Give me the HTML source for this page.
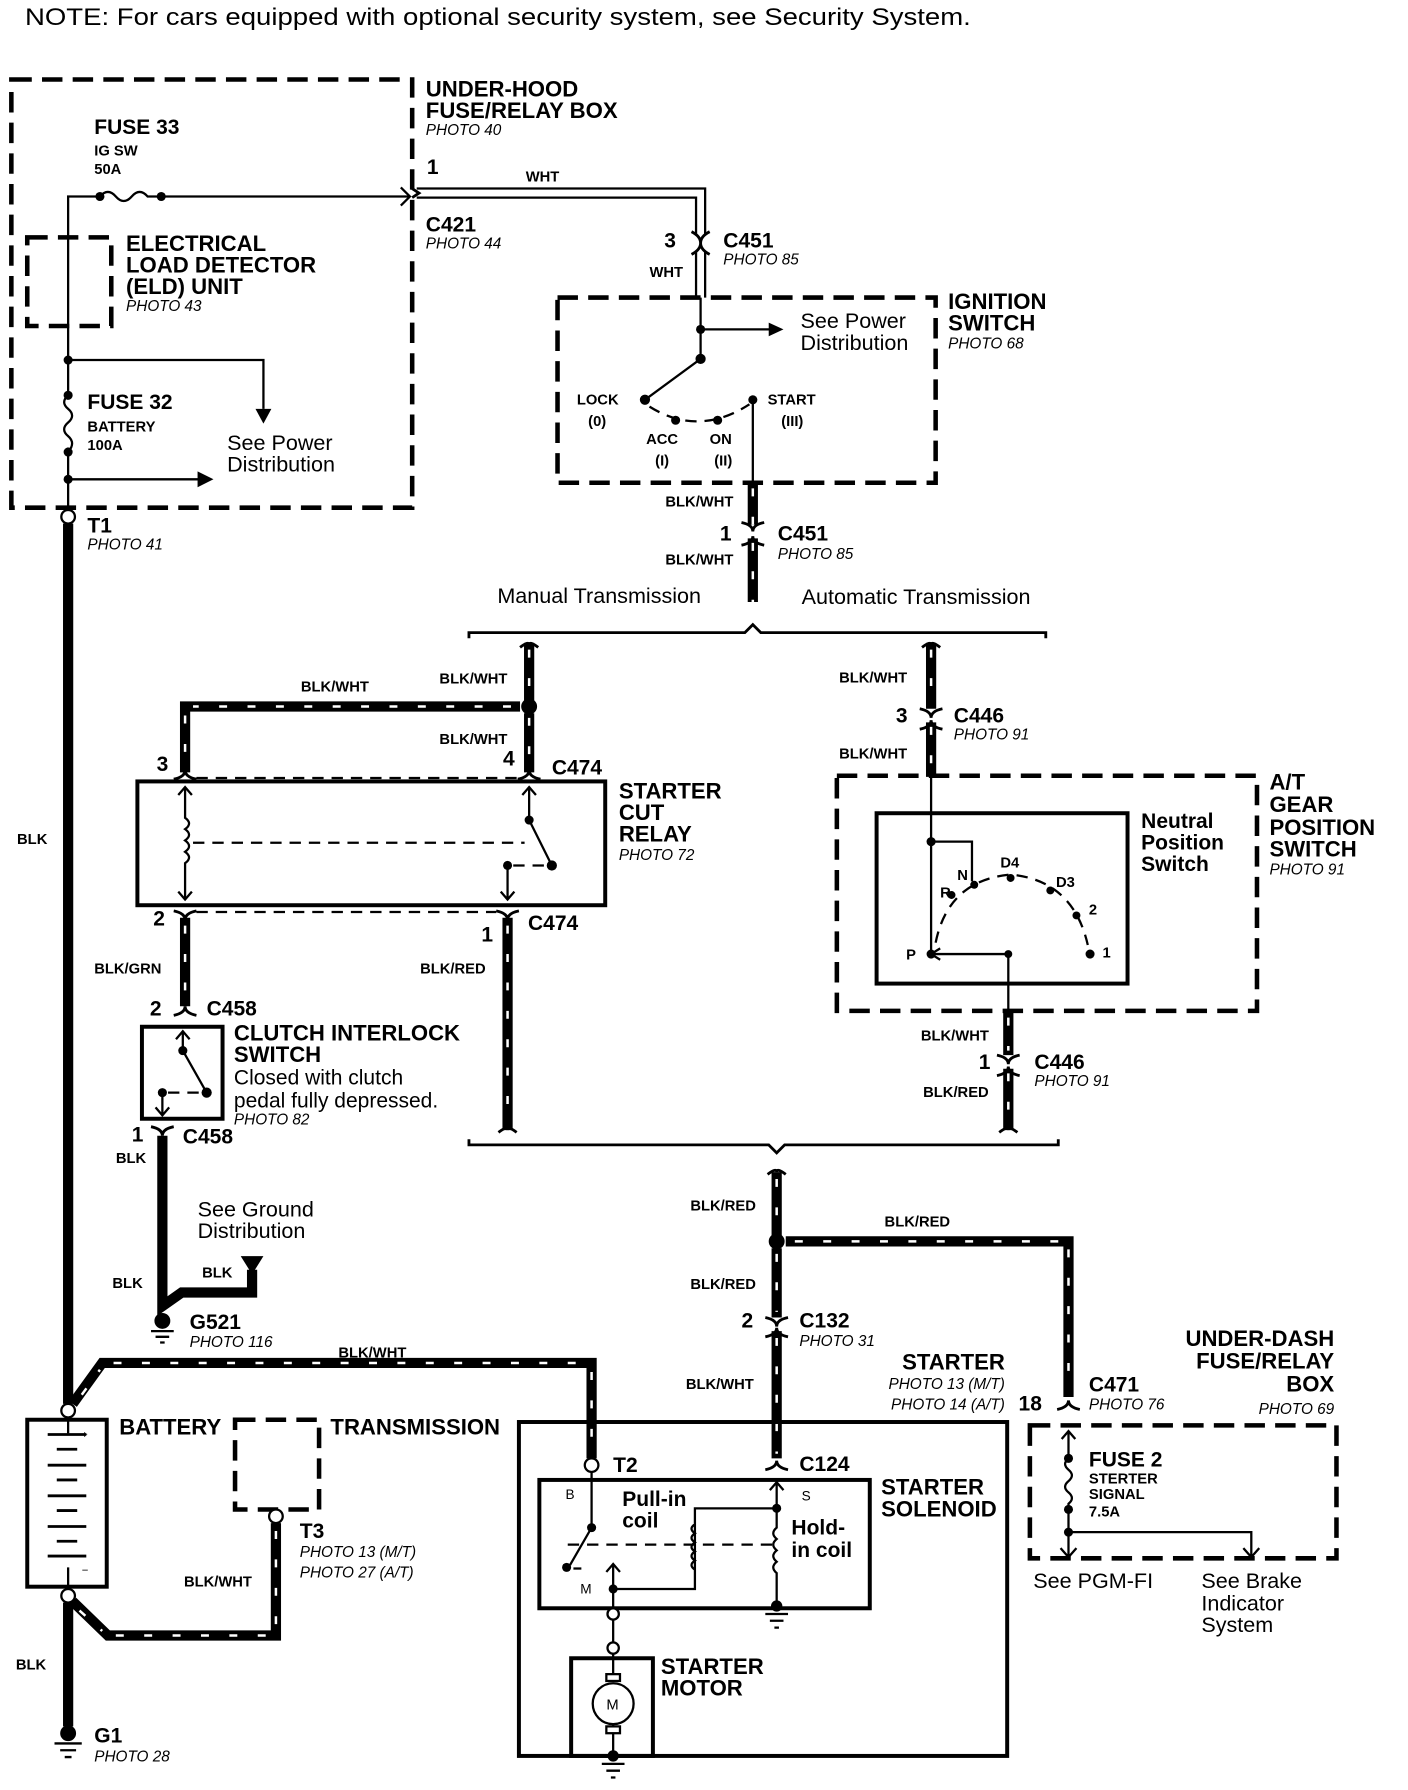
<!DOCTYPE html>
<html><head><meta charset="utf-8"><style>
html,body{margin:0;padding:0;background:#fff}
svg{display:block}
text{font-family:"Liberation Sans",Arial,sans-serif;fill:#000}
.b{font-weight:bold}
text[font-size="17"]{font-size:18.5px}
text[font-size="17.5"]{font-size:18.5px}
.h{font-weight:bold;font-size:19.5px}
.s{font-weight:bold;font-size:13px}
.p{font-style:italic;font-size:13.5px}
.n{font-size:19px}
.w{fill:none;stroke:#000;stroke-width:9}
.st{fill:none;stroke:#fff;stroke-width:2.2;stroke-dasharray:7 18}
.t{fill:none;stroke:#000;stroke-width:2}
.d{fill:none;stroke:#000;stroke-width:4;stroke-dasharray:18 9}
.dt{fill:none;stroke:#000;stroke-width:2;stroke-dasharray:10 7}
.bx{fill:none;stroke:#000;stroke-width:3.5}
.c{fill:none;stroke:#000;stroke-width:2.5}
</style></head><body>
<svg width="1408" height="1790" viewBox="0 0 1240 1576" preserveAspectRatio="none" xmlns="http://www.w3.org/2000/svg">
<text x="22" y="22" font-size="21" textLength="833" lengthAdjust="spacingAndGlyphs">NOTE: For cars equipped with optional security system, see Security System.</text>

<!-- Under-hood box -->
<rect class="d" x="10" y="70" width="353" height="377"/>
<text class="h" x="375" y="85">UNDER-HOOD</text>
<text class="h" x="375" y="104">FUSE/RELAY BOX</text>
<text class="p" x="375" y="119">PHOTO  40</text>
<text class="b" font-size="17" x="83" y="118">FUSE 33</text>
<text class="s" x="83" y="137">IG SW</text>
<text class="s" x="83" y="153">50A</text>
<path class="t" d="M60 447 V173 H88"/>
<path class="t" d="M88 173 q7 -8 14 0 q7 8 14 0 q7 -8 14 0 H360"/>
<path class="t" d="M353 165 L361 173 L353 181"/>
<circle cx="88" cy="173" r="4"/><circle cx="142" cy="173" r="4"/>
<rect class="d" x="24" y="209" width="74" height="78"/>
<text class="h" x="111" y="221">ELECTRICAL</text>
<text class="h" x="111" y="240">LOAD DETECTOR</text>
<text class="h" x="111" y="259">(ELD) UNIT</text>
<text class="p" x="111" y="274">PHOTO 43</text>
<circle cx="60" cy="317" r="4"/>
<path class="t" d="M60 317 H232 V360"/>
<path d="M225 360 L239 360 L232 373 Z"/>
<circle cx="60" cy="348" r="4"/><circle cx="60" cy="398" r="4"/><circle cx="60" cy="422" r="4"/>
<path fill="#fff" stroke="#fff" stroke-width="3" d="M60 352 V394"/>
<path class="t" d="M60 348 q-7 6 0 12 q7 6 0 12 q-7 6 0 12 q7 6 0 14"/>
<path class="t" d="M60 422 H175"/>
<path d="M174 415 L188 422 L174 429 Z"/>
<text class="b" font-size="17" x="77" y="360">FUSE 32</text>
<text class="s" x="77" y="380">BATTERY</text>
<text class="s" x="77" y="396">100A</text>
<text class="n" x="200" y="396">See Power</text>
<text class="n" x="200" y="415">Distribution</text>
<circle cx="60" cy="455" r="6" fill="#fff" stroke="#000" stroke-width="2"/>
<path class="w" d="M60 461 V1236"/>
<text class="b" font-size="17" x="77" y="469">T1</text>
<text class="p" x="77" y="484">PHOTO 41</text>
<text class="s" x="15" y="743">BLK</text>

<!-- WHT double wire -->
<path class="t" d="M367 166 H621 V206"/>
<path class="t" d="M367 174 H613 V206"/>
<path class="c" d="M363 166 q6 4 6 4 q-6 4 -6 4"/>
<text class="b" font-size="17" x="376" y="153">1</text>
<text class="s" x="463" y="160">WHT</text>
<text class="b" font-size="17" x="375" y="204">C421</text>
<text class="p" x="375" y="219">PHOTO 44</text>
<path class="c" d="M609 204 q8 4 8 10 q0 -6 8 -10 M609 224 q8 -4 8 -10 q0 6 8 10"/>
<text class="b" font-size="17" x="585" y="218">3</text>
<text class="b" font-size="17" x="637" y="218">C451</text>
<text class="p" x="637" y="233">PHOTO 85</text>
<text class="s" x="572" y="244">WHT</text>
<path class="t" d="M613 222 V262 M621 222 V262"/>
<!-- Ignition switch -->
<rect class="d" x="491" y="262" width="333" height="163"/>
<path class="t" d="M617 262 V316 L568 352"/>
<circle cx="617" cy="290" r="4"/><circle cx="617" cy="316" r="4.5"/>
<path class="t" d="M617 290 H678"/><path d="M677 284 L690 290 L677 296 Z"/>
<circle cx="568" cy="352" r="4.5"/><circle cx="595" cy="370" r="4"/><circle cx="632" cy="370" r="4"/><circle cx="663" cy="352" r="4"/>
<path class="dt" stroke-dasharray="6 8" d="M572 358 Q615 385 660 356"/>
<path class="t" d="M663 352 V425"/>
<text class="s" x="508" y="356">LOCK</text><text class="s" x="518" y="375">(0)</text>
<text class="s" x="569" y="391">ACC</text><text class="s" x="577" y="410">(I)</text>
<text class="s" x="625" y="391">ON</text><text class="s" x="629" y="410">(II)</text>
<text class="s" x="676" y="356">START</text><text class="s" x="688" y="375">(III)</text>
<text class="h" x="835" y="272">IGNITION</text>
<text class="h" x="835" y="291">SWITCH</text>
<text class="p" x="835" y="307">PHOTO 68</text>
<text class="n" x="705" y="289">See Power</text>
<text class="n" x="705" y="308">Distribution</text>
<path class="w" d="M663 425 V462 M663 474 V530"/>
<path class="st" d="M663 430 V462 M663 478 V530"/>
<path class="c" d="M653 460 q10 2 10 8 q0 -6 10 -8 M653 480 q10 -2 10 -8 q0 6 10 8"/>
<text class="s" x="586" y="446">BLK/WHT</text>
<text class="b" font-size="17" x="634" y="476">1</text>
<text class="b" font-size="17" x="685" y="476">C451</text>
<text class="p" x="685" y="492">PHOTO 85</text>
<text class="s" x="586" y="497">BLK/WHT</text>
<text class="n" x="438" y="531">Manual Transmission</text>
<text class="n" x="706" y="532">Automatic Transmission</text>
<path class="c" stroke-width="3" d="M413 562 V557 H656 L663 550 L670 557 H921 V562"/>

<!-- Manual branch -->
<path class="w" d="M466 566 V618 M466 628 V680"/>
<path class="st" d="M466 572 V618 M466 632 V676"/>
<circle cx="466" cy="622" r="7"/>
<path class="w" d="M458 622 H163 V680"/>
<path class="st" d="M450 622 H170 M163 630 V676"/>
<path class="c" d="M458 570 q8 -6 8 -2 q0 -4 8 2"/>
<text class="s" x="265" y="609">BLK/WHT</text>
<text class="s" x="387" y="602">BLK/WHT</text>
<text class="s" x="387" y="655">BLK/WHT</text>
<text class="b" font-size="17" x="138" y="679">3</text>
<text class="b" font-size="17" x="443" y="674">4</text>
<text class="b" font-size="17" x="486" y="682">C474</text>
<path class="c" d="M153 686 q10 -2 10 -8 q0 6 10 8 M456 686 q10 -2 10 -8 q0 6 10 8"/>
<path class="dt" d="M173 685 H456"/>
<rect class="bx" x="121" y="688" width="412" height="109"/>
<path class="t" d="M163 693 V720 q7 5 0 10 q7 5 0 10 q7 5 0 10 q7 5 0 10 V792"/>
<path class="t" d="M157 700 L163 693 L169 700 M157 785 L163 792 L169 785"/>
<path class="dt" d="M170 742 H462"/>
<path class="t" d="M466 693 V722 L486 762"/>
<path class="t" d="M460 700 L466 693 L472 700"/>
<circle cx="466" cy="722" r="4"/><circle cx="486" cy="762" r="4.5"/><circle cx="447" cy="762" r="4"/>
<path class="dt" stroke-dasharray="6 6" d="M452 762 H480"/>
<path class="t" d="M447 762 V792 M441 785 L447 792 L453 785"/>
<text class="h" x="545" y="703">STARTER</text>
<text class="h" x="545" y="722">CUT</text>
<text class="h" x="545" y="741">RELAY</text>
<text class="p" x="545" y="757">PHOTO 72</text>
<path class="c" d="M153 802 q10 2 10 8 q0 -6 10 -8 M437 802 q10 2 10 8 q0 -6 10 -8"/>
<path class="dt" d="M173 803 H437"/>
<text class="b" font-size="17" x="135" y="815">2</text>
<text class="b" font-size="17" x="465" y="819">C474</text>
<text class="b" font-size="17" x="424" y="829">1</text>
<path class="w" d="M163 808 V886"/>
<path class="st" d="M163 815 V882"/>
<text class="s" x="83" y="857">BLK/GRN</text>
<path class="c" d="M153 894 q10 -2 10 -8 q0 6 10 8"/>
<text class="b" font-size="17" x="132" y="894">2</text>
<text class="b" font-size="17" x="182" y="894">C458</text>
<rect class="bx" x="125" y="904" width="71" height="81"/>
<path class="t" d="M161 908 V925 L182 962 M155 915 L161 908 L167 915"/>
<circle cx="161" cy="925" r="4"/><circle cx="182" cy="962" r="4.5"/><circle cx="143" cy="962" r="4"/>
<path class="dt" stroke-dasharray="5 5" d="M148 962 H176"/>
<path class="t" d="M143 962 V982 M137 975 L143 982 L149 975"/>
<text class="h" x="206" y="916">CLUTCH INTERLOCK</text>
<text class="h" x="206" y="935">SWITCH</text>
<text class="n" x="206" y="955" font-size="17.5">Closed with clutch</text>
<text class="n" x="206" y="975" font-size="17.5">pedal fully depressed.</text>
<text class="p" x="206" y="990">PHOTO 82</text>
<path class="c" d="M133 992 q10 2 10 8 q0 -6 10 -8"/>
<text class="b" font-size="17" x="116" y="1005">1</text>
<text class="b" font-size="17" x="161" y="1007">C458</text>
<text class="s" x="102" y="1024">BLK</text>
<path class="w" d="M143 1000 V1150 L160 1138 H222 V1118"/>
<path d="M212 1106 H232 L222 1122 Z"/>
<text class="n" x="174" y="1071">See Ground</text>
<text class="n" x="174" y="1090">Distribution</text>
<text class="s" x="178" y="1125">BLK</text>
<text class="s" x="99" y="1134">BLK</text>
<circle cx="143" cy="1163" r="7"/>
<path class="t" d="M133 1172 H153 M137 1177 H149 M141 1182 H145"/>
<text class="b" font-size="17" x="167" y="1170">G521</text>
<text class="p" x="167" y="1186">PHOTO 116</text>
<path class="w" d="M447 808 V995"/>
<path class="st" d="M447 815 V990"/>
<path class="c" d="M439 997 q8 -6 8 -2 q0 -4 8 2"/>
<text class="s" x="370" y="857">BLK/RED</text>

<!-- Auto branch -->
<path class="w" d="M820 566 V624 M820 636 V684"/>
<path class="st" d="M820 572 V620 M820 640 V680"/>
<path class="c" d="M812 570 q8 -6 8 -2 q0 -4 8 2"/>
<path class="c" d="M810 624 q10 2 10 8 q0 -6 10 -8 M810 642 q10 -2 10 -8 q0 6 10 8"/>
<text class="s" x="739" y="601">BLK/WHT</text>
<text class="b" font-size="17" x="789" y="636">3</text>
<text class="b" font-size="17" x="840" y="636">C446</text>
<text class="p" x="840" y="651">PHOTO  91</text>
<text class="s" x="739" y="668">BLK/WHT</text>
<rect class="d" x="737" y="683" width="370" height="207"/>
<rect class="bx" x="772" y="716" width="221" height="150"/>
<path class="t" d="M820 684 V840 M820 741 H856 V776"/>
<circle cx="820" cy="741" r="4"/>
<circle cx="838" cy="788" r="3.5"/><circle cx="858" cy="779" r="3.5"/><circle cx="890" cy="773" r="3.5"/>
<circle cx="925" cy="784" r="3.5"/><circle cx="948" cy="806" r="3.5"/><circle cx="960" cy="840" r="4"/>
<circle cx="820" cy="840" r="4"/>
<path class="dt" stroke-dasharray="5 7" d="M824 830 Q835 775 890 770 Q945 775 958 832"/>
<path class="t" d="M820 840 H888 V890 M828 835 L820 840 L828 845"/>
<circle cx="888" cy="840" r="3.5"/>
<text class="s" x="828" y="790">R</text>
<text class="s" x="843" y="775">N</text>
<text class="s" x="881" y="764">D4</text>
<text class="s" x="930" y="781">D3</text>
<text class="s" x="959" y="805">2</text>
<text class="s" x="971" y="843">1</text>
<text class="s" x="798" y="845">P</text>
<text class="b" font-size="17" x="1005" y="729">Neutral</text>
<text class="b" font-size="17" x="1005" y="748">Position</text>
<text class="b" font-size="17" x="1005" y="767">Switch</text>
<text class="h" x="1118" y="695">A/T</text>
<text class="h" x="1118" y="715">GEAR</text>
<text class="h" x="1118" y="735">POSITION</text>
<text class="h" x="1118" y="754">SWITCH</text>
<text class="p" x="1118" y="770">PHOTO 91</text>
<path class="w" d="M888 890 V929 M888 941 V995"/>
<path class="st" d="M888 896 V925 M888 945 V990"/>
<path class="c" d="M878 929 q10 2 10 8 q0 -6 10 -8 M878 947 q10 -2 10 -8 q0 6 10 8 M880 997 q8 -6 8 -2 q0 -4 8 2"/>
<text class="s" x="811" y="916">BLK/WHT</text>
<text class="b" font-size="17" x="862" y="941">1</text>
<text class="b" font-size="17" x="911" y="941">C446</text>
<text class="p" x="911" y="956">PHOTO 91</text>
<text class="s" x="813" y="966">BLK/RED</text>
<path class="c" stroke-width="3" d="M413 1003 V1008 H677 L684 1015 L691 1008 H932 V1003"/>

<!-- Lower common -->
<path class="w" d="M684 1032 V1088 M684 1099 V1160 M684 1172 V1284"/>
<path class="st" d="M684 1038 V1084 M684 1104 V1155 M684 1178 V1280"/>
<path class="c" d="M676 1034 q8 -6 8 -2 q0 -4 8 2"/>
<circle cx="684" cy="1093" r="7"/>
<path class="w" d="M692 1093 H941 V1230"/>
<path class="st" d="M700 1093 H935 M941 1100 V1225"/>
<path class="c" d="M674 1160 q10 2 10 8 q0 -6 10 -8 M674 1177 q10 -2 10 -8 q0 6 10 8"/>
<path class="c" d="M674 1294 q10 -2 10 -8 q0 6 10 8"/>
<path class="c" d="M931 1241 q10 -2 10 -8 q0 6 10 8"/>
<text class="s" x="608" y="1066">BLK/RED</text>
<text class="s" x="779" y="1080">BLK/RED</text>
<text class="s" x="608" y="1135">BLK/RED</text>
<text class="b" font-size="17" x="653" y="1169">2</text>
<text class="b" font-size="17" x="704" y="1169">C132</text>
<text class="p" x="704" y="1185">PHOTO 31</text>
<text class="s" x="604" y="1223">BLK/WHT</text>
<text class="h" x="885" y="1206" text-anchor="end">STARTER</text>
<text class="p" x="885" y="1223" text-anchor="end">PHOTO 13 (M/T)</text>
<text class="p" x="885" y="1241" text-anchor="end">PHOTO 14 (A/T)</text>

<!-- Battery -->
<circle cx="60" cy="1242" r="6" fill="#fff" stroke="#000" stroke-width="2"/>
<path class="w" d="M64 1236 L90 1200 H521 V1284"/>
<path class="st" d="M72 1228 L88 1206 M100 1200 H515 M521 1208 V1280"/>
<text class="s" x="298" y="1195">BLK/WHT</text>
<rect class="bx" x="24" y="1250" width="70" height="147" stroke-width="4"/>
<path class="t" d="M60 1250 V1262 M60 1380 V1397"/>
<path stroke="#000" stroke-width="2.5" d="M42 1263 H76 M50 1276 H68 M42 1290 H76 M50 1303 H68 M42 1317 H76 M50 1330 H68 M42 1344 H76 M50 1357 H68 M42 1370 H76"/>
<text x="72" y="1266" font-size="9">+</text><text x="72" y="1386" font-size="10">−</text>
<text class="h" x="105" y="1263">BATTERY</text>
<circle cx="60" cy="1405" r="6" fill="#fff" stroke="#000" stroke-width="2"/>
<path class="w" d="M64 1410 L95 1440 H243 V1341"/>
<path class="st" d="M70 1418 L90 1436 M102 1440 H238 M243 1430 V1345"/>
<path class="w" d="M60 1411 V1520"/>
<text class="s" x="14" y="1470">BLK</text>
<circle cx="60" cy="1526" r="7"/>
<path class="t" d="M48 1535 H72 M53 1541 H67 M57 1547 H63"/>
<text class="b" font-size="17" x="83" y="1534">G1</text>
<text class="p" x="83" y="1551">PHOTO 28</text>
<rect class="d" x="207" y="1250" width="74" height="79"/>
<text class="h" x="291" y="1263">TRANSMISSION</text>
<circle cx="243" cy="1335" r="6" fill="#fff" stroke="#000" stroke-width="2"/>
<text class="b" font-size="17" x="264" y="1354">T3</text>
<text class="p" x="264" y="1371">PHOTO 13 (M/T)</text>
<text class="p" x="264" y="1389">PHOTO 27 (A/T)</text>
<text class="s" x="162" y="1397">BLK/WHT</text>

<!-- Starter -->
<rect class="bx" x="457" y="1252" width="430" height="294"/>
<circle cx="521" cy="1290" r="6" fill="#fff" stroke="#000" stroke-width="2"/>
<text class="b" font-size="17" x="540" y="1296">T2</text>
<text class="b" font-size="17" x="704" y="1295">C124</text>
<rect class="bx" x="475" y="1303" width="291" height="113"/>
<text x="498" y="1320" font-size="12">B</text>
<text x="706" y="1321" font-size="12">S</text>
<text x="511" y="1403" font-size="12">M</text>
<text class="b" font-size="17" x="548" y="1326">Pull-in</text>
<text class="b" font-size="17" x="548" y="1345">coil</text>
<text class="b" font-size="17" x="697" y="1351">Hold-</text>
<text class="b" font-size="17" x="697" y="1371">in coil</text>
<text class="h" x="776" y="1316">STARTER</text>
<text class="h" x="776" y="1335">SOLENOID</text>
<path class="t" d="M521 1296 V1345 L502 1378"/>
<circle cx="521" cy="1345" r="4"/><circle cx="499" cy="1380" r="4"/>
<path class="t" d="M505 1381 H512"/>
<path class="t" d="M540 1378 V1416 M534 1384 L540 1377 L546 1384"/>
<circle cx="540" cy="1399" r="4"/>
<path class="t" d="M540 1399 H612 V1342 q-6 4 0 8 q-6 4 0 8 q-6 4 0 8 q-6 4 0 8 q-6 4 0 8 V1328 M612 1342 V1328 H684"/>
<circle cx="684" cy="1328" r="4"/>
<path class="t" d="M684 1305 V1345 q-6 5 0 10 q-6 5 0 10 q-6 5 0 10 q-6 5 0 10 V1416 M678 1312 L684 1305 L690 1312"/>
<path class="dt" d="M500 1360 H684"/>
<circle cx="684" cy="1414" r="5"/>
<path class="t" d="M674 1421 H694 M678 1427 H690 M682 1433 H686"/>
<circle cx="540" cy="1421" r="5" fill="#fff" stroke="#000" stroke-width="2"/>
<path class="t" d="M540 1426 V1446"/>
<circle cx="540" cy="1451" r="5" fill="#fff" stroke="#000" stroke-width="2"/>
<rect class="bx" x="503" y="1460" width="72" height="86"/>
<path class="t" d="M540 1456 V1474 M540 1518 V1546"/>
<rect x="534" y="1474" width="12" height="6" fill="#fff" stroke="#000" stroke-width="2"/>
<rect x="534" y="1520" width="12" height="6" fill="#fff" stroke="#000" stroke-width="2"/>
<circle cx="540" cy="1500" r="18" fill="#fff" stroke="#000" stroke-width="2"/>
<text x="534" y="1505" font-size="13">M</text>
<text class="h" x="582" y="1474">STARTER</text>
<text class="h" x="582" y="1493">MOTOR</text>
<circle cx="540" cy="1546" r="5"/>
<path class="t" d="M530 1553 H550 M534 1559 H546 M538 1565 H542"/>

<!-- Under-dash -->
<text class="b" font-size="17" x="897" y="1242">18</text>
<text class="b" font-size="17" x="959" y="1225">C471</text>
<text class="p" x="959" y="1241">PHOTO 76</text>
<text class="h" x="1175" y="1185" text-anchor="end">UNDER-DASH</text>
<text class="h" x="1175" y="1205" text-anchor="end">FUSE/RELAY</text>
<text class="h" x="1175" y="1225" text-anchor="end">BOX</text>
<text class="p" x="1175" y="1245" text-anchor="end">PHOTO 69</text>
<rect class="d" x="907" y="1255" width="270" height="117"/>
<path class="t" d="M941 1260 V1284 q-6 5 0 10 q6 5 0 10 q-6 5 0 10 q6 5 0 10 V1371 M935 1267 L941 1260 L947 1267 M934 1363 L941 1371 L948 1363"/>
<circle cx="941" cy="1284" r="4"/><circle cx="941" cy="1329" r="4"/><circle cx="941" cy="1349" r="4"/>
<path class="t" d="M941 1349 H1102 V1371 M1095 1363 L1102 1371 L1109 1363"/>
<text class="b" font-size="17" x="959" y="1291">FUSE 2</text>
<text class="s" x="959" y="1306">STERTER</text>
<text class="s" x="959" y="1320">SIGNAL</text>
<text class="s" x="959" y="1335">7.5A</text>
<text class="n" x="910" y="1398">See PGM-FI</text>
<text class="n" x="1058" y="1398">See Brake</text>
<text class="n" x="1058" y="1418">Indicator</text>
<text class="n" x="1058" y="1437">System</text>
</svg>
</body></html>
